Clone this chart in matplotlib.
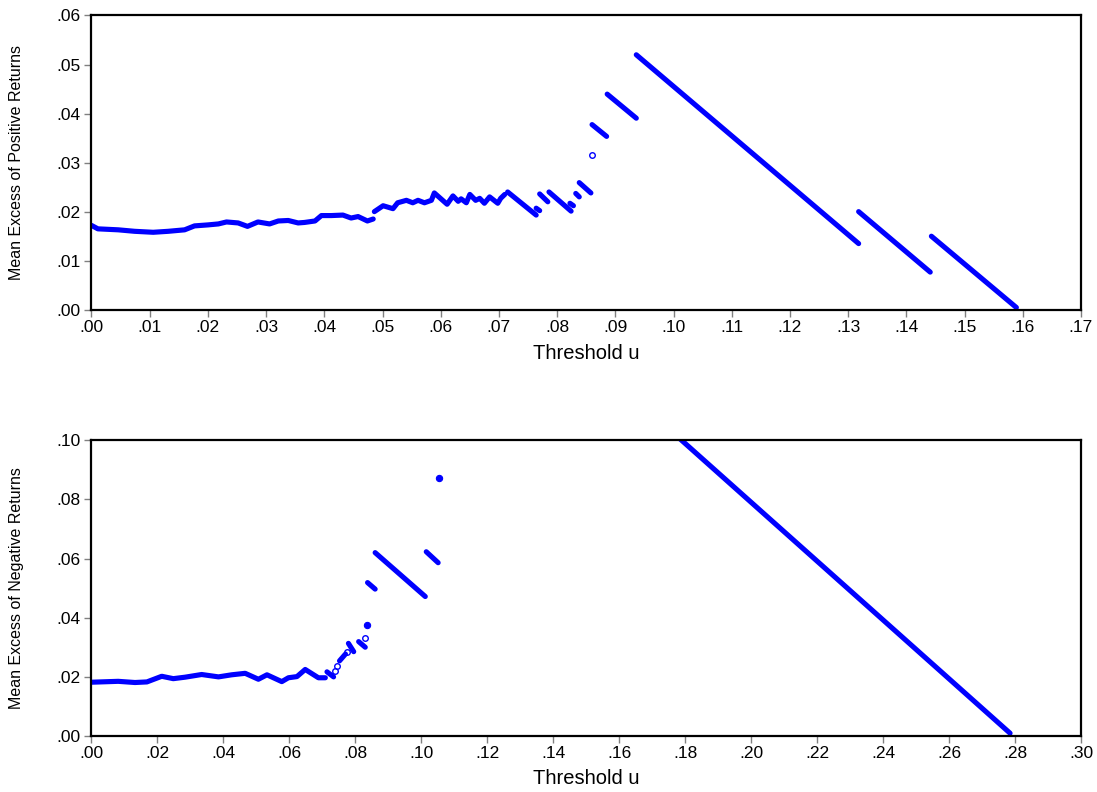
import numpy as np
import matplotlib
matplotlib.use("Agg")
import matplotlib.pyplot as plt
from matplotlib.ticker import FuncFormatter

nan = np.nan
BLUE = "#0000ff"

# ---------------- Positive returns (top panel) ----------------
# continuous pieces of the mean-excess curve, separated by NaN
pos_u = [0.0000, 0.0011, 0.0046, 0.0074, 0.0106, 0.0132, 0.0160, 0.0177, 0.0200,
         0.0218, 0.0232, 0.0252, 0.0268, 0.0286, 0.0306, 0.0321, 0.0338, 0.0355,
         0.0366, 0.0384, 0.0395, 0.0412, 0.0432, 0.0446, 0.0458, 0.0474, 0.0484, nan,
         0.0486, 0.0501, 0.0518, 0.0526, 0.0541, 0.0552, 0.0561, 0.0572, 0.0584,
         0.0589, 0.0611, 0.0621, 0.0630, 0.0635, 0.0644, 0.0650, 0.0660, 0.0667,
         0.0675, 0.0684, 0.0698, 0.0703, 0.0710, nan,
         0.0715, 0.0764, nan, 0.0764, 0.0770, nan, 0.0770, 0.0784, nan,
         0.0786, 0.0824, nan, 0.0822, 0.0828, nan, 0.0832, 0.0838, nan,
         0.0838, 0.0858, nan, 0.0860, 0.0885, nan, 0.0886, 0.0936, nan,
         0.0936, 0.1318, nan, 0.1318, 0.1441, nan, 0.1443, 0.1589]
pos_me = [0.0173, 0.0166, 0.0164, 0.0161, 0.0159, 0.0161, 0.0164, 0.0172, 0.0174,
          0.0176, 0.0180, 0.0178, 0.0171, 0.0180, 0.0176, 0.0182, 0.0183, 0.0178,
          0.0179, 0.0182, 0.0193, 0.0193, 0.0194, 0.0188, 0.0191, 0.0182, 0.0186, nan,
          0.0201, 0.0213, 0.0207, 0.0219, 0.0224, 0.0219, 0.0224, 0.0219, 0.0224,
          0.0239, 0.0216, 0.0233, 0.0222, 0.0227, 0.0219, 0.0236, 0.0224, 0.0228,
          0.0218, 0.0231, 0.0218, 0.0228, 0.0236, nan,
          0.0241, 0.0194, nan, 0.0208, 0.0203, nan, 0.0237, 0.0221, nan,
          0.0241, 0.0202, nan, 0.0218, 0.0213, nan, 0.0238, 0.0231, nan,
          0.0260, 0.0239, nan, 0.0378, 0.0354, nan, 0.0440, 0.0391, nan,
          0.0520, 0.0136, nan, 0.0201, 0.0078, nan, 0.0151, 0.0006]
# isolated single observations
pos_iso_u = [0.0860]
pos_iso_me = [0.0317]

# ---------------- Negative returns (bottom panel) ----------------
neg_u = [0.0000, 0.0081, 0.0132, 0.0168, 0.0213, 0.0248, 0.0284, 0.0334, 0.0385,
         0.0425, 0.0466, 0.0506, 0.0532, 0.0577, 0.0597, 0.0623, 0.0648, 0.0688,
         0.0709, nan,
         0.0714, 0.0734, nan, 0.0752, 0.0770, nan,
         0.0779, 0.0795, nan, 0.0810, 0.0830, nan,
         0.0837, 0.0860, nan, 0.0860, 0.1012, nan, 0.1015, 0.1051, nan,
         0.1785, 0.2785]
neg_me = [0.0183, 0.0186, 0.0182, 0.0184, 0.0203, 0.0195, 0.0200, 0.0209, 0.0201,
          0.0208, 0.0213, 0.0193, 0.0208, 0.0185, 0.0198, 0.0202, 0.0226, 0.0198,
          0.0198, nan,
          0.0218, 0.0201, nan, 0.0255, 0.0278, nan,
          0.0314, 0.0286, nan, 0.0320, 0.0301, nan,
          0.0519, 0.0497, nan, 0.0620, 0.0472, nan, 0.0623, 0.0586, nan,
          0.1003, 0.0011]
neg_iso_u = [0.0738, 0.0745, 0.0776, 0.0830]
neg_iso_me = [0.0220, 0.0237, 0.0286, 0.0333]
neg_dot_u = [0.0835, 0.1055]
neg_dot_me = [0.0376, 0.0873]

pos_xticks = np.round(np.arange(0, 0.1701, 0.01), 2)
pos_yticks = np.round(np.arange(0, 0.0601, 0.01), 2)
neg_xticks = np.round(np.arange(0, 0.3001, 0.02), 2)
neg_yticks = np.round(np.arange(0, 0.1001, 0.02), 2)

plt.rcParams['font.family'] = ['Liberation Sans', 'DejaVu Sans']

fig = plt.figure(figsize=(10.97, 7.92), dpi=100)
ax1 = fig.add_axes([0.0834, 0.6080, 0.902, 0.3725])
ax2 = fig.add_axes([0.0834, 0.0701, 0.902, 0.3744])


def fmt(v, pos):
    s = "%.2f" % v
    return s[1:] if s.startswith("0") else s


def style(ax, xt, yt, xlim, ylim, ylabel):
    ax.set_xlim(*xlim)
    ax.set_ylim(*ylim)
    ax.set_xticks(xt)
    ax.set_yticks(yt)
    ax.xaxis.set_major_formatter(FuncFormatter(fmt))
    ax.yaxis.set_major_formatter(FuncFormatter(fmt))
    for sp in ax.spines.values():
        sp.set_linewidth(1.6)
        sp.set_color("black")
    ax.tick_params(axis="both", direction="out", length=5, width=1.0,
                   color="#808080", labelsize=12.5, labelcolor="black")
    ax.tick_params(axis="x", pad=2)
    ax.tick_params(axis="y", pad=3)
    ax.set_xlabel("Threshold u", fontsize=14.5)
    ax.set_ylabel(ylabel, fontsize=11.5)


ax1.plot(pos_u, pos_me, color=BLUE, lw=3.7, solid_capstyle="round",
         solid_joinstyle="round")
ax1.plot(pos_iso_u, pos_iso_me, linestyle="none", marker="o", ms=4.0,
         mfc="none", mec=BLUE, mew=1.0)
style(ax1, pos_xticks, pos_yticks, (0, 0.17), (0, 0.06),
      "Mean Excess of Positive Returns")
ax1.xaxis.set_label_coords(0.5, -0.115)
ax1.yaxis.set_label_coords(-0.068, 0.5)

ax2.plot(neg_u, neg_me, color=BLUE, lw=3.7, solid_capstyle="round",
         solid_joinstyle="round")
ax2.plot(neg_iso_u, neg_iso_me, linestyle="none", marker="o", ms=4.0,
         mfc="none", mec=BLUE, mew=1.0)
ax2.plot(neg_dot_u, neg_dot_me, linestyle="none", marker="o", ms=4.5,
         mfc=BLUE, mec=BLUE, mew=0.8)
style(ax2, neg_xticks, neg_yticks, (0, 0.30), (0, 0.10),
      "Mean Excess of Negative Returns")
ax2.xaxis.set_label_coords(0.5, -0.108)
ax2.yaxis.set_label_coords(-0.068, 0.5)

fig.savefig("out.png", dpi=100)
